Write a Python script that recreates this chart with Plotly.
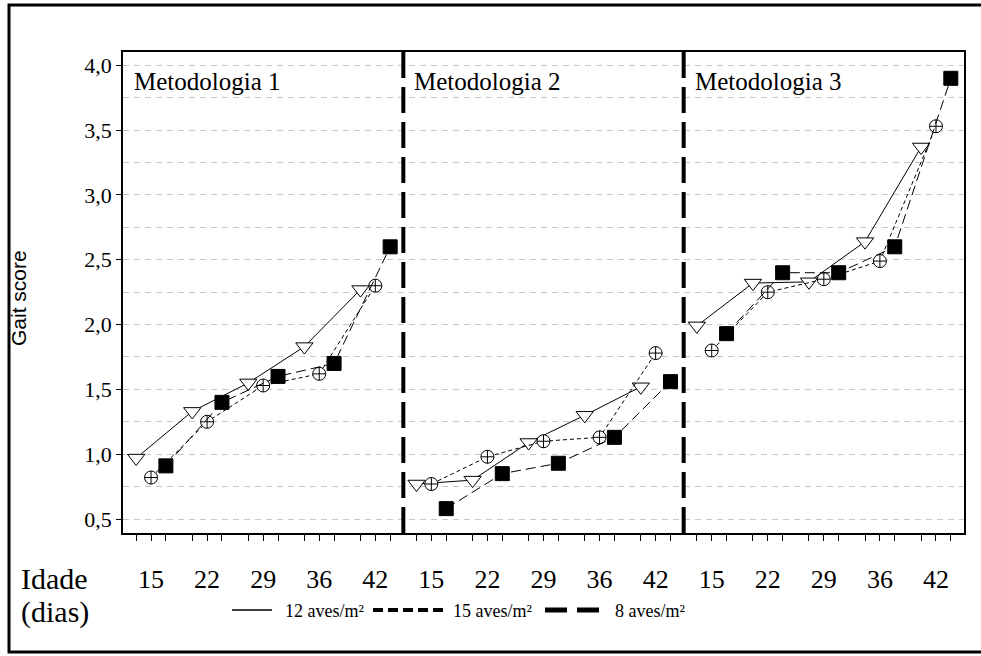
import plotly.graph_objects as go

# ---------------- data ----------------
ages = [15, 22, 29, 36, 42]
metodologias = ["Metodologia 1", "Metodologia 2", "Metodologia 3"]
densidades = ["12 aves/m²", "15 aves/m²", "8 aves/m²"]

gait_12 = [[0.97, 1.33, 1.55, 1.83, 2.27],
           [0.77, 0.80, 1.09, 1.30, 1.52],
           [1.99, 2.32, 2.33, 2.64, 3.37]]
gait_15 = [[0.82, 1.25, 1.53, 1.62, 2.30],
           [0.77, 0.98, 1.10, 1.13, 1.78],
           [1.80, 2.25, 2.35, 2.49, 3.53]]
gait_8 = [[0.91, 1.40, 1.60, 1.70, 2.60],
          [0.58, 0.85, 0.93, 1.13, 1.56],
          [1.93, 2.40, 2.40, 2.60, 3.90]]

y_ticks = [0.5, 1.0, 1.5, 2.0, 2.5, 3.0, 3.5, 4.0]
y_tick_text = ["0,5", "1,0", "1,5", "2,0", "2,5", "3,0", "3,5", "4,0"]

# ---------------- layout helpers ----------------
PANEL = 5.0      # width of one panel in x units (one unit per age group)
OFFSET = 0.265   # offset of a density inside an age group
SERIF = "Liberation Serif, Times New Roman, DejaVu Serif, serif"

series = [gait_12, gait_15, gait_8]
styles = [
    dict(symbol="triangle-down", size=15, color="white", dash="solid"),
    dict(symbol="circle-cross", size=13, color="white", dash="4px,3px"),
    dict(symbol="square", size=14, color="black", dash="10px,5px"),
]

def xpos(p, g, k):
    return PANEL * p + 0.5 + g + (k - 1) * OFFSET

fig = go.Figure()

for k, (vals, st) in enumerate(zip(series, styles)):
    xs, ys = [], []
    for p in range(len(metodologias)):
        for g in range(len(ages)):
            xs.append(xpos(p, g, k))
            ys.append(vals[p][g])
        xs.append(None)
        ys.append(None)
    fig.add_trace(go.Scatter(
        x=xs, y=ys, mode="lines+markers", name=densidades[k],
        line=dict(color="black", width=1, dash=st["dash"]),
        marker=dict(symbol=st["symbol"], size=st["size"], color=st["color"],
                    line=dict(color="black", width=1)),
        showlegend=False, connectgaps=False,
    ))

# x ticks at each point, labels at group centres
tickvals, ticktext = [], []
for p in range(len(metodologias)):
    for g, a in enumerate(ages):
        for k in range(3):
            tickvals.append(xpos(p, g, k))
            ticktext.append(str(a) if k == 1 else "")

fig.update_xaxes(
    range=[0, PANEL * len(metodologias)],
    tickvals=tickvals, ticktext=ticktext,
    ticks="outside", ticklen=6, tickcolor="black", tickwidth=1,
    tickfont=dict(family=SERIF, size=26, color="black"),
    ticklabelstandoff=16,
    showgrid=False, zeroline=False,
    showline=True, linecolor="black", linewidth=1.5, mirror=True,
)
fig.update_yaxes(
    range=[0.392, 4.103],
    tickvals=y_ticks, ticktext=y_tick_text,
    ticks="outside", ticklen=5, tickcolor="black",
    tickfont=dict(family=SERIF, size=22, color="black"),
    showgrid=True, gridcolor="#c8c8c8", griddash="6px,5px", gridwidth=1,
    minor=dict(dtick=0.25, tick0=0.25, showgrid=True, gridcolor="#c8c8c8",
               griddash="6px,5px", gridwidth=1, ticks=""),
    zeroline=False,
    showline=True, linecolor="black", linewidth=1.5, mirror=True,
)

shapes = []
# thick dashed dividers between panels
for p in range(1, len(metodologias)):
    shapes.append(dict(type="line", xref="x", yref="paper", x0=PANEL * p,
                       x1=PANEL * p, y0=0, y1=1,
                       line=dict(color="black", width=4, dash="26px,9px")))

annotations = []
for p, name in enumerate(metodologias):
    annotations.append(dict(text=name, xref="x", yref="paper",
                            x=PANEL * p + 0.16, y=0.938, xanchor="left",
                            yanchor="middle", showarrow=False,
                            font=dict(family=SERIF, size=25, color="black")))

# page frame
W, H = 981, 656
L, R, T, B = 123, 17, 52, 123
pw, ph = W - L - R, H - T - B
def px(x):
    return (x - L) / pw
def py(y):
    return (H - B - y) / ph

shapes.append(dict(type="rect", xref="paper", yref="paper",
                   x0=px(9), x1=px(990), y0=py(652), y1=py(5),
                   line=dict(color="black", width=3), layer="below"))

annotations.append(dict(text="Gait score", xref="paper", yref="paper",
                        x=px(18), y=py(298), xanchor="center",
                        yanchor="middle", textangle=-90, showarrow=False,
                        font=dict(family="Liberation Sans, Arial, sans-serif",
                                  size=21, color="black")))
annotations.append(dict(text="Idade", xref="paper", yref="paper", x=px(19),
                        y=py(578), xanchor="left", yanchor="middle",
                        showarrow=False,
                        font=dict(family=SERIF, size=30, color="black")))
annotations.append(dict(text="(dias)", xref="paper", yref="paper", x=px(19),
                        y=py(612), xanchor="left", yanchor="middle",
                        showarrow=False,
                        font=dict(family=SERIF, size=30, color="black")))

# manual legend
leg = [
    (232, 272, dict(color="black", width=1.5, dash="solid"), 283, densidades[0]),
    (373, 447, dict(color="black", width=4, dash="10px,5px"), 451, densidades[1]),
    (545, 602, dict(color="black", width=5, dash="22px,10px"), 613, densidades[2]),
]
for x0, x1, ln, tx, label in leg:
    shapes.append(dict(type="line", xref="paper", yref="paper", x0=px(x0),
                       x1=px(x1), y0=py(610), y1=py(610), line=ln))
    annotations.append(dict(text=label, xref="paper", yref="paper", x=px(tx),
                            y=py(611), xanchor="left", yanchor="middle",
                            showarrow=False,
                            font=dict(family=SERIF, size=18, color="black")))

fig.update_layout(
    width=W, height=H,
    margin=dict(l=L, r=R, t=T, b=B),
    paper_bgcolor="white", plot_bgcolor="white",
    shapes=shapes, annotations=annotations,
    showlegend=False,
)

fig.write_html("out.html",
               config={"displayModeBar": False},
               post_script="document.body.style.margin='0px';")
